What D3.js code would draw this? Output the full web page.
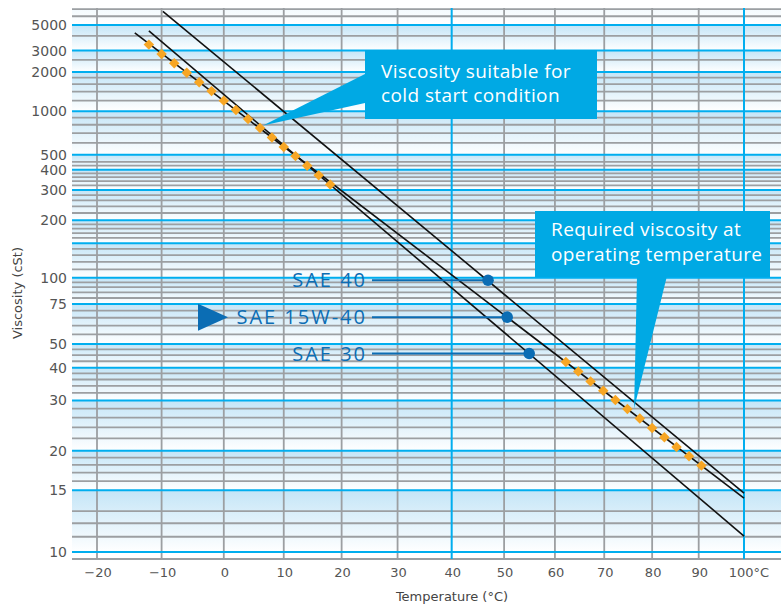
<!DOCTYPE html>
<meta charset="utf-8">
<style>
    body { margin: 0; background: #fff; }
    svg { display: block; }
    .tick-label { font-family: "DejaVu Sans", sans-serif; font-size: 13px; fill: #555; }
    .tick-label.y { font-size: 14px; }
    .axis-title { font-family: "DejaVu Sans", sans-serif; font-size: 13px; fill: #444; }
    .callout text { font-family: "Open Sans", sans-serif; font-size: 19px; fill: #fff; letter-spacing: 0.4px; }
    .oil-label { font-family: "Open Sans", sans-serif; font-size: 20px; fill: #0b6db4; letter-spacing: 2px; }
</style>
<svg width="781" height="605"></svg>
<script src="https://d3js.org/d3.v7.min.js"></script>
<script>
    // temperature axis (°C)
    const tempTicks = [-20, -10, 0, 10, 20, 30, 40, 50, 60, 70, 80, 90, 100];
    const tempBlue = [40, 100];

    // viscosity axis (cSt)
    const viscLabels = [10, 15, 20, 30, 40, 50, 75, 100, 200, 300, 400, 500, 1000, 2000, 3000, 5000];
    const viscMajor = [10, 15, 20, 30, 40, 50, 75, 100, 150, 200, 300, 400, 500, 1000, 2000, 3000, 5000];
    const viscMinor = [11, 12, 13, 16, 17, 18, 19, 22, 24, 26, 28, 32, 34, 36, 38, 42.5, 45, 47.5,
        55, 60, 65, 70, 80, 85, 90, 95, 110, 120, 130, 140, 160, 170, 180, 190,
        220, 240, 260, 280, 320, 340, 360, 380, 425, 450, 600, 700, 800, 900,
        1200, 1400, 1600, 1800, 2500, 4000, 6000, 7000];

    // oil lines: start and end points
    const oilNames = ["SAE 40", "SAE 15W-40", "SAE 30"];
    const oilStartTemp = [-9.8, -14.2, -12.0];
    const oilStartVisc = [6660, 4260, 4440];
    const oilEndTemp = [100, 100, 100];
    const oilEndVisc = [14.7, 14.2, 11.05];
    const markerTemp = [46.9, 50.6, 54.9];
    const markerVisc = [97.2, 65.4, 45.7];

    // orange points on the 15W-40 line
    const coldTemps = [-12, -10, -8, -6, -4, -2, 0, 2, 4, 6, 8, 10, 12, 14, 16, 18];
    const coldVisc = [3365, 2798, 2350, 1970, 1658, 1414, 1198, 1023, 880, 758, 652, 563, 490, 425, 370, 324];
    const hotTemps = [62.2, 64.7, 67.2, 69.8, 72.3, 74.8, 77.4, 80, 82.6, 85.2, 87.9, 90.6];
    const hotVisc = [42.2, 38.7, 35.4, 32.6, 30.1, 27.9, 25.8, 23.9, 22.2, 20.6, 19.2, 17.9];

    const svg = d3.select("svg");
    const plot = { left: 72, right: 781, top: 8, bottom: 559 };

    // ASTM D341 style: x is log of absolute temperature, y is log-log of (v + 0.7)
    const x = d3.scaleLog().domain([253.15, 373.15]).range([97, 744]);
    const tx = t => x(t + 273.15);
    const walther = v => Math.log10(Math.log10(v + 0.7));
    const y = d3.scaleLinear().domain([walther(10), walther(5000)]).range([552, 25]);
    const vy = v => y(walther(v));

    const defs = svg.append("defs");
    const grad = defs.append("linearGradient").attr("id", "band").attr("x1", 0).attr("y1", 0).attr("x2", 0).attr("y2", 1);
    grad.append("stop").attr("offset", "0%").attr("stop-color", "#c4e5f7");
    grad.append("stop").attr("offset", "100%").attr("stop-color", "#ffffff");
    const gradTop = defs.append("linearGradient").attr("id", "bandTop").attr("x1", 0).attr("y1", 0).attr("x2", 0).attr("y2", 1);
    gradTop.append("stop").attr("offset", "0%").attr("stop-color", "#f3fafe");
    gradTop.append("stop").attr("offset", "100%").attr("stop-color", "#ffffff");

    // bands between blue lines
    const bands = viscMajor.slice(0, -1).map((v, i) => [v, viscMajor[i + 1]]);
    svg.append("g").selectAll("rect").data(bands).join("rect")
        .attr("x", plot.left)
        .attr("width", plot.right - plot.left)
        .attr("y", d => vy(d[1]))
        .attr("height", d => vy(d[0]) - vy(d[1]))
        .attr("fill", "url(#band)");
    svg.append("rect")
        .attr("x", plot.left).attr("width", plot.right - plot.left)
        .attr("y", plot.top).attr("height", vy(5000) - plot.top)
        .attr("fill", "url(#bandTop)");

    // grey grid
    const grey = "#9c9fa2";
    svg.append("g").selectAll("line").data(viscMinor).join("line")
        .attr("x1", plot.left).attr("x2", plot.right)
        .attr("y1", d => vy(d)).attr("y2", d => vy(d))
        .attr("stroke", grey).attr("stroke-width", 1.8);
    svg.append("line")
        .attr("x1", plot.left).attr("x2", plot.right)
        .attr("y1", plot.bottom).attr("y2", plot.bottom)
        .attr("stroke", grey).attr("stroke-width", 1.8);
    svg.append("g").selectAll("line").data(tempTicks.filter(t => !tempBlue.includes(t))).join("line")
        .attr("x1", d => tx(d)).attr("x2", d => tx(d))
        .attr("y1", plot.top).attr("y2", plot.bottom)
        .attr("stroke", grey).attr("stroke-width", 1.8);

    // blue grid
    const blue = "#00aeef";
    svg.append("g").selectAll("line").data(viscMajor).join("line")
        .attr("x1", plot.left).attr("x2", plot.right)
        .attr("y1", d => vy(d)).attr("y2", d => vy(d))
        .attr("stroke", blue).attr("stroke-width", 2);
    svg.append("g").selectAll("line").data(tempBlue).join("line")
        .attr("x1", d => tx(d)).attr("x2", d => tx(d))
        .attr("y1", plot.top).attr("y2", plot.bottom)
        .attr("stroke", blue).attr("stroke-width", 2);

    // tick labels
    svg.append("g").selectAll("text").data(viscLabels).join("text")
        .attr("class", "tick-label y")
        .attr("x", 67).attr("y", d => vy(d)).attr("dy", "0.36em")
        .attr("text-anchor", "end")
        .text(d => d);
    svg.append("g").selectAll("text").data(tempTicks).join("text")
        .attr("class", "tick-label")
        .attr("x", d => tx(d) + (d === 100 ? 5 : 1)).attr("y", 577)
        .attr("text-anchor", "middle")
        .text(d => (d < 0 ? "\u2212" + (-d) : d) + (d === 100 ? "°C" : ""));

    svg.append("text").attr("class", "axis-title")
        .attr("x", 452).attr("y", 601).attr("text-anchor", "middle")
        .text("Temperature (°C)");
    svg.append("text").attr("class", "axis-title")
        .attr("transform", "translate(22,293) rotate(-90)").attr("text-anchor", "middle")
        .text("Viscosity (cSt)");

    // oil lines
    const line = d3.line().x(d => tx(d[0])).y(d => vy(d[1]));
    svg.append("g").selectAll("path").data(oilNames).join("path")
        .attr("d", (d, i) => line([[oilStartTemp[i], oilStartVisc[i]], [oilEndTemp[i], oilEndVisc[i]]]))
        .attr("fill", "none").attr("stroke", "#111").attr("stroke-width", 1.6);

    // callouts
    const calloutColor = "#00a9e4";
    const c1 = svg.append("g").attr("class", "callout");
    const tip1 = [tx(6.5), vy(790)];
    c1.append("path").attr("d", `M365,74 L${tip1[0]},${tip1[1]} L365,103 Z`).attr("fill", calloutColor);
    c1.append("rect").attr("x", 365).attr("y", 50).attr("width", 232).attr("height", 69).attr("fill", calloutColor);
    c1.append("text").attr("x", 381).attr("y", 78).text("Viscosity suitable for");
    c1.append("text").attr("x", 381).attr("y", 102).text("cold start condition");

    const c2 = svg.append("g").attr("class", "callout");
    const tip2 = [tx(76.2), vy(28)];
    c2.append("path").attr("d", `M637,276 L${tip2[0]},${tip2[1]} L667,276 Z`).attr("fill", calloutColor);
    c2.append("rect").attr("x", 535).attr("y", 211).attr("width", 235).attr("height", 66).attr("fill", calloutColor);
    c2.append("text").attr("x", 551).attr("y", 236).text("Required viscosity at");
    c2.append("text").attr("x", 551).attr("y", 261).text("operating temperature");

    // orange points
    const orange = "#f7a624";
    const pts = coldTemps.map((t, i) => [t, coldVisc[i]]).concat(hotTemps.map((t, i) => [t, hotVisc[i]]));
    svg.append("g").selectAll("rect").data(pts).join("rect")
        .attr("x", -3.7).attr("y", -3.7).attr("width", 7.4).attr("height", 7.4)
        .attr("transform", d => `translate(${tx(d[0])},${vy(d[1])}) rotate(45)`)
        .attr("fill", orange);

    // SAE markers and labels
    const dark = "#0b6db4";
    const markers = svg.append("g");
    oilNames.forEach((name, i) => {
        const mx = tx(markerTemp[i]), my = vy(markerVisc[i]);
        markers.append("line").attr("x1", 372).attr("x2", mx).attr("y1", my).attr("y2", my)
            .attr("stroke", dark).attr("stroke-width", 2);
        markers.append("circle").attr("cx", mx).attr("cy", my).attr("r", 5.8).attr("fill", dark);
        markers.append("text").attr("class", "oil-label")
            .attr("x", 367).attr("y", my).attr("dy", "0.36em").attr("text-anchor", "end")
            .text(name);
        if (name === "SAE 15W-40") {
            markers.append("path").attr("d", `M198,${my - 13.5} L228,${my} L198,${my + 13.5} Z`).attr("fill", dark);
        }
    });
</script>
